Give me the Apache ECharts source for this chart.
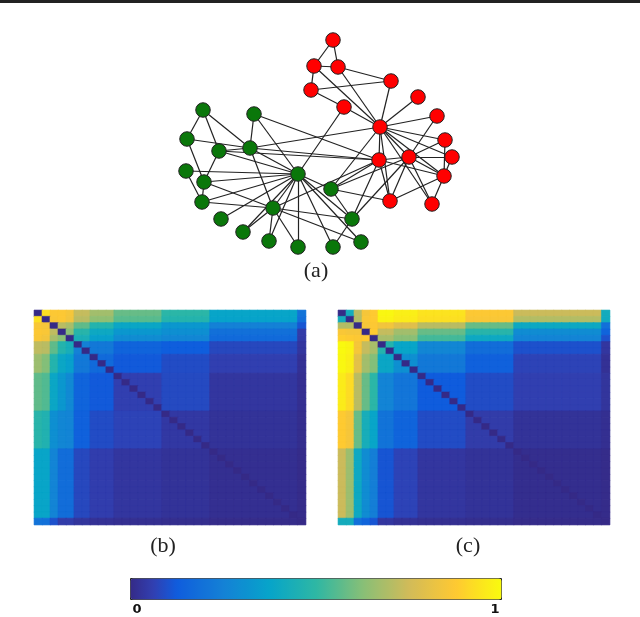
<!DOCTYPE html>
<html>
<head>
<meta charset="utf-8">
<style>
  html, body { margin: 0; padding: 0; background: #fff; }
  #main { width: 640px; height: 617px; }
</style>
<script src="https://cdn.jsdelivr.net/npm/echarts@6/dist/echarts.min.js"></script>
</head>
<body>
<div id="main"></div>
<script>
// network (a): node positions
const redX = [333, 314, 338, 391, 311, 418, 344, 437, 380, 445, 452, 379, 409, 444, 390, 432];
const redY = [40, 66, 67, 81, 90, 97, 107, 116, 127, 140, 157, 160, 157, 176, 201, 204];
const greenX = [203, 254, 187, 219, 250, 186, 204, 298, 202, 331, 273, 221, 352, 243, 269, 298, 333, 361];
const greenY = [110, 114, 139, 151, 148, 171, 182, 174, 202, 189, 208, 219, 219, 232, 241, 247, 247, 242];

const redEdges = [
  [0, 1], [0, 2], [1, 2], [1, 4], [1, 8], [2, 8], [2, 3], [3, 4], [3, 8], [4, 6], [5, 8], [6, 8],
  [7, 8], [7, 12], [8, 9], [8, 10], [8, 11], [8, 12], [8, 13], [8, 14], [8, 15], [9, 12], [9, 13],
  [10, 12], [10, 13], [11, 12], [11, 13], [11, 14], [12, 13], [12, 14], [12, 15], [13, 14], [13, 15]
];
const greenEdges = [
  [0, 2], [0, 3], [0, 4], [1, 4], [1, 7], [2, 4], [2, 6], [3, 4], [3, 6], [3, 7], [4, 7], [4, 10],
  [5, 7], [5, 8], [6, 7], [6, 8], [6, 10], [7, 8], [7, 9], [7, 10], [7, 11], [7, 12], [7, 13], [7, 14],
  [7, 15], [7, 16], [7, 17], [8, 10], [9, 12], [10, 12], [10, 13], [10, 14], [10, 15], [10, 17], [12, 16]
];
// [red, green]
const crossEdges = [[6, 7], [8, 4], [8, 9], [11, 1], [11, 3], [11, 4], [11, 9], [11, 10], [11, 12], [12, 9], [12, 12], [14, 9]];

// matrices (b) and (c): nodes come in groups, each group pair has one value
const blockSizes = [1, 1, 1, 1, 1, 2, 3, 6, 6, 11, 1];
const valuesB = [
  [0, .93, .87, .87, .85, .73, .67, .58, .49, .38, .2],
  [.93, 0, .86, .87, .84, .71, .64, .56, .47, .37, .18],
  [.86, .85, 0, .71, .68, .57, .47, .39, .33, .25, .11],
  [.87, .86, .72, 0, .63, .48, .40, .33, .30, .19, .05],
  [.86, .84, .68, .63, 0, .44, .36, .29, .27, .17, .045],
  [.72, .71, .57, .47, .43, .25, .22, .15, .13, .08, .035],
  [.66, .62, .47, .39, .36, .22, .17, .12, .09, .06, .02],
  [.57, .55, .39, .33, .28, .15, .12, .06, .085, .035, .015],
  [.48, .46, .3, .27, .26, .14, .09, .07, .04, .025, .01],
  [.38, .38, .26, .18, .18, .08, .055, .035, .025, .015, .005],
  [.2, .19, .1, .05, .05, .03, .02, .015, .01, .005, 0]
];
const valuesC = [
  [0, .42, .71, .85, .88, .99, .97, .94, .87, .74, .42],
  [.42, 0, .70, .86, .88, .98, .96, .93, .86, .70, .41],
  [.70, .70, 0, .85, .87, .84, .79, .71, .58, .4, .19],
  [.86, .85, .85, 0, .88, .73, .67, .58, .48, .29, .15],
  [.89, .88, .87, .88, 0, .68, .63, .53, .4, .26, .1],
  [.995, .98, .85, .73, .68, .47, .38, .27, .18, .1, .035],
  [.99, .97, .8, .67, .62, .39, .3, .22, .14, .07, .02],
  [.96, .92, .71, .58, .49, .26, .21, .125, .09, .06, .03],
  [.88, .85, .58, .43, .38, .2, .15, .09, .05, .025, .015],
  [.74, .66, .4, .29, .24, .11, .07, .035, .025, .01, .005],
  [.42, .42, .19, .15, .11, .035, .02, .015, .01, .005, 0]
];
const parula = [
  '#352a87', '#3140b2', '#0f5cdd', '#126fd9', '#1481d6', '#0d92d0', '#06a4ca', '#1aaeb7', '#2eb7a4',
  '#5abb8d', '#87bf77', '#acbd68', '#d1bb59', '#e8c245', '#fec832', '#fce220', '#f9fb0e'
];

const nodeNames = [];
const nodeBlock = [];
blockSizes.forEach(function (size, b) {
  for (let k = 0; k < size; k++) {
    nodeNames.push('n' + nodeBlock.length);
    nodeBlock.push(b);
  }
});

function cells(table) {
  const out = [];
  nodeBlock.forEach(function (rowBlock, i) {
    nodeBlock.forEach(function (colBlock, j) {
      const v = i === j ? 0 : table[rowBlock][colBlock];
      const c = echarts.color.lerp(v, parula);
      // cells are 6.3px tall, a border in the same colour hides the seams between them
      out.push({
        value: [j, i, v],
        visualMap: false,
        itemStyle: { color: c, borderColor: c, borderWidth: 0.6 }
      });
    });
  });
  return out;
}

const graphNodes = [];
redX.forEach(function (x, i) {
  graphNodes.push({ value: [x, redY[i]], itemStyle: { color: '#ff0000' } });
});
greenX.forEach(function (x, i) {
  graphNodes.push({ value: [x, greenY[i]], itemStyle: { color: '#0a770a' } });
});
const redCount = redX.length;
const graphLinks = [];
redEdges.forEach(function (e) { graphLinks.push({ source: e[0], target: e[1] }); });
greenEdges.forEach(function (e) { graphLinks.push({ source: e[0] + redCount, target: e[1] + redCount }); });
crossEdges.forEach(function (e) { graphLinks.push({ source: e[0], target: e[1] + redCount }); });

function caption(text, x, y) {
  return {
    type: 'text', x: x, y: y,
    style: { text: text, fill: '#222', font: '22px "Liberation Serif"', textAlign: 'center', textVerticalAlign: 'middle' }
  };
}
function barLabel(text, x, y) {
  return {
    type: 'text', x: x, y: y,
    style: { text: text, fill: '#111', font: 'bold 13px "DejaVu Sans"', textAlign: 'center', textVerticalAlign: 'middle' }
  };
}

const hiddenCat = { type: 'category', data: nodeNames, show: false };
const myChart = echarts.init(document.getElementById('main'), null, { renderer: 'canvas' });
myChart.setOption({
  animation: false,
  backgroundColor: '#fff',
  grid: [
    { left: 34.3, top: 310.3, width: 271.4, height: 214.4 },
    { left: 338.3, top: 310.3, width: 271.4, height: 214.4 },
    { left: 0, top: 0, width: 640, height: 617 }
  ],
  xAxis: [
    Object.assign({ gridIndex: 0 }, hiddenCat),
    Object.assign({ gridIndex: 1 }, hiddenCat),
    { gridIndex: 2, type: 'value', min: 0, max: 640, show: false }
  ],
  yAxis: [
    Object.assign({ gridIndex: 0, inverse: true }, hiddenCat),
    Object.assign({ gridIndex: 1, inverse: true }, hiddenCat),
    { gridIndex: 2, type: 'value', min: 0, max: 617, inverse: true, show: false }
  ],
  visualMap: {
    type: 'continuous',
    seriesIndex: [0, 1],
    min: 0,
    max: 1,
    orient: 'horizontal',
    left: 130,
    top: 578,
    itemWidth: 21,
    itemHeight: 371,
    padding: 0,
    borderColor: '#222',
    borderWidth: 1,
    calculable: false,
    hoverLink: false,
    text: null,
    inRange: { color: parula }
  },
  series: [
    { type: 'heatmap', xAxisIndex: 0, yAxisIndex: 0, data: cells(valuesB), silent: true, progressive: 0 },
    { type: 'heatmap', xAxisIndex: 1, yAxisIndex: 1, data: cells(valuesC), silent: true, progressive: 0 },
    {
      type: 'graph',
      coordinateSystem: 'cartesian2d',
      xAxisIndex: 2,
      yAxisIndex: 2,
      layout: 'none',
      silent: true,
      symbolSize: 14.5,
      itemStyle: { borderColor: '#222', borderWidth: 1 },
      lineStyle: { color: '#222', width: 1.2, opacity: 1, curveness: 0 },
      label: { show: false },
      data: graphNodes,
      links: graphLinks
    }
  ],
  graphic: [
    { type: 'rect', shape: { x: 0, y: 0, width: 640, height: 3 }, style: { fill: '#222' } },
    caption('(a)', 316, 271),
    caption('(b)', 163, 546),
    caption('(c)', 468, 546),
    barLabel('0', 137, 610),
    barLabel('1', 495, 610)
  ]
});
</script>
</body>
</html>
